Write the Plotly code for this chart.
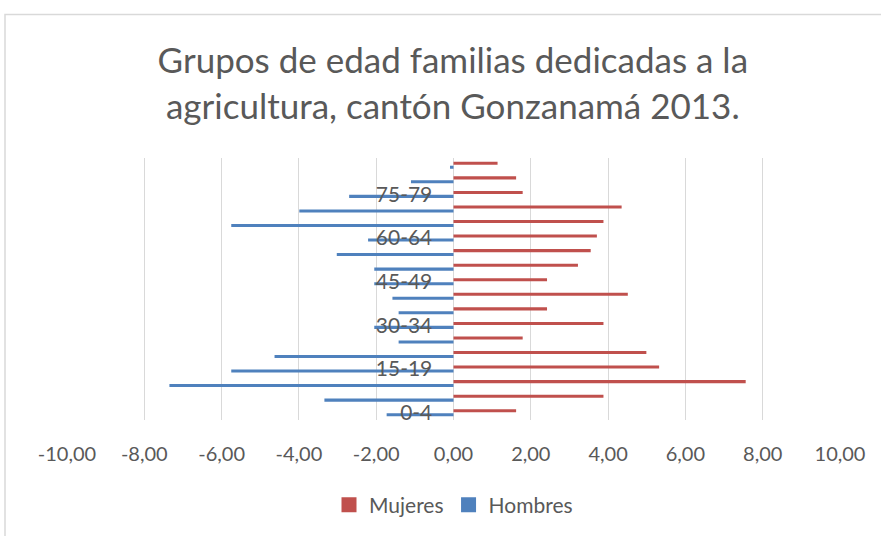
import plotly.graph_objects as go

age_groups = ['0-4', '5-9', '10-14', '15-19', '20-24', '25-29', '30-34', '35-39',
              '40-44', '45-49', '50-54', '55-59', '60-64', '65-69', '70-74',
              '75-79', '80-84', '85 y más']
mujeres = [1.62, 3.88, 7.56, 5.32, 4.99, 1.79, 3.88, 2.42, 4.51, 2.42,
           3.22, 3.55, 3.71, 3.88, 4.35, 1.79, 1.62, 1.14]
hombres = [-1.73, -3.34, -7.35, -5.75, -4.63, -1.42, -2.05, -1.42, -1.58, -2.05,
           -2.05, -3.02, -2.21, -5.75, -3.99, -2.70, -1.10, -0.09]
y_tick_labels = ['0-4', '15-19', '30-34', '45-49', '60-64', '75-79']
x_tick_vals = [-10, -8, -6, -4, -2, 0, 2, 4, 6, 8, 10]
x_tick_text = ['-10,00', '-8,00', '-6,00', '-4,00', '-2,00', '0,00',
               '2,00', '4,00', '6,00', '8,00', '10,00']

FONT = 'Lato, "Open Sans", sans-serif'
TXT = '#595959'
GRID = '#d9d9d9'
RED = '#C0504D'
BLUE = '#4F81BD'

fig = go.Figure()
fig.add_trace(go.Bar(
    y=age_groups, x=mujeres, orientation='h', name='Mujeres',
    marker=dict(color=RED, line=dict(width=0)),
    offset=0.03, width=0.21, showlegend=False,
))
fig.add_trace(go.Bar(
    y=age_groups, x=hombres, orientation='h', name='Hombres',
    marker=dict(color=BLUE, line=dict(width=0)),
    offset=-0.24, width=0.21, showlegend=False,
))
# legend entries with square swatches
for name, color in [('Mujeres', RED), ('Hombres', BLUE)]:
    fig.add_trace(go.Scatter(
        x=[None], y=[None], mode='markers', name=name,
        marker=dict(symbol='square', size=15, color=color),
    ))

fig.update_layout(
    width=881, height=536,
    margin=dict(l=67, r=41, t=158, b=115),
    paper_bgcolor='white', plot_bgcolor='white',
    barmode='overlay',
    font=dict(family=FONT, color=TXT),
    title=dict(
        text='Grupos de edad familias dedicadas a la<br>agricultura, cantón Gonzanamá 2013.',
        x=0.514, xanchor='center', xref='container',
        y=1 - 73 / 536, yanchor='top', yref='container',
        font=dict(family=FONT, size=35, color=TXT),
    ),
    xaxis=dict(
        range=[-10, 10], tickvals=x_tick_vals, ticktext=x_tick_text,
        showgrid=True, gridcolor=GRID, gridwidth=1,
        zeroline=True, zerolinecolor=GRID, zerolinewidth=1,
        showline=False, ticks='outside', ticklen=16, tickcolor='rgba(0,0,0,0)',
        tickfont=dict(family=FONT, size=20, color=TXT),
        fixedrange=True,
    ),
    yaxis=dict(
        type='category', categoryorder='array', categoryarray=age_groups,
        range=[-0.5, len(age_groups) - 0.5],
        tickvals=y_tick_labels, ticktext=y_tick_labels,
        anchor='free', position=0.5,
        showgrid=False, zeroline=False, showline=False,
        ticks='outside', ticklen=17, tickcolor='rgba(0,0,0,0)',
        tickfont=dict(family=FONT, size=21, color=TXT),
        layer='above traces', fixedrange=True,
    ),
    legend=dict(
        orientation='h', x=0.5, xanchor='center', y=-0.32, yanchor='middle',
        font=dict(family=FONT, size=21, color=TXT),
        traceorder='normal', itemwidth=30,
    ),
    showlegend=True,
    shapes=[dict(type='rect', xref='paper', yref='paper',
                 x0=(5 - 67) / 773, x1=1.3, y0=-1.0, y1=(421 - 14) / 263,
                 line=dict(color=GRID, width=1.5), fillcolor='rgba(0,0,0,0)',
                 layer='below')],
)

fig.write_html('out.html',
               config={'displayModeBar': False},
               post_script="document.body.style.margin='0';"
                           "document.body.style.padding='0';"
                           "document.body.style.overflow='hidden';")
